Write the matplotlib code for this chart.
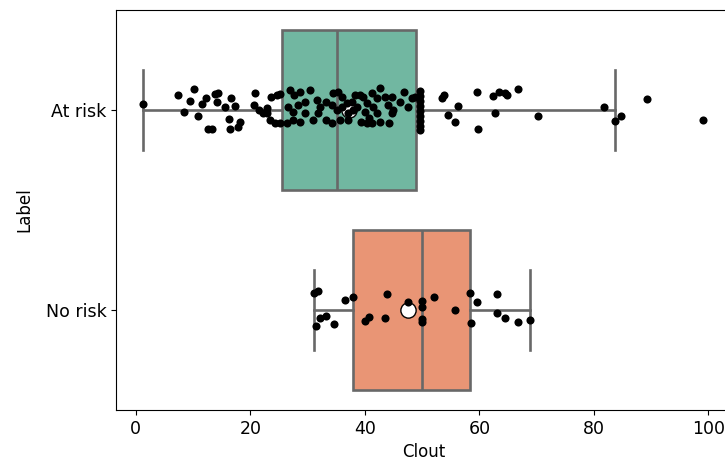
import matplotlib
matplotlib.use("Agg")
import matplotlib.pyplot as plt
import numpy as np

# ---- data ----
categories = ["At risk", "No risk"]
box_q1 = [25.5, 38.0]
box_median = [35.1, 49.9]
box_q3 = [48.9, 58.3]
whisker_low = [1.2, 31.1]
whisker_high = [83.6, 68.8]
box_mean = [37.3, 47.6]

at_risk_clout = [
    1.2, 7.3, 10.1, 9.4, 8.4, 10.8, 11.5, 12.2, 13.8, 14.3, 14.1, 12.7, 13.3,
    15.5, 16.6, 16.2, 16.4, 17.3, 18.2, 17.8, 20.9, 20.6, 21.6, 22.2, 22.9,
    23.7, 24.6, 25.1, 23.4, 24.3, 25.1, 22.9, 26.9, 27.7, 28.6, 26.5, 27.4,
    28.3, 26.4, 27.4, 28.6, 29.5, 29.5, 30.4, 30.9, 31.6, 32.1, 31.8, 33.3,
    34.2, 34.4, 35.3, 36.0, 33.3, 34.2, 35.1, 36.0, 36.8, 37.7, 38.2, 39.1,
    38.7, 37.9, 37.0, 39.4, 40.3, 40.3, 40.0, 35.6, 37.0, 39.6, 41.2, 42.6,
    42.1, 41.4, 42.1, 40.8, 43.5, 44.7, 44.0, 44.9, 44.7, 42.6, 44.3, 41.2,
    46.1, 46.9, 47.5, 48.2, 48.7, 49.7, 49.7, 49.7, 49.7, 49.7, 49.7, 49.7,
    49.7, 49.7, 53.4, 53.9, 54.5, 56.2, 55.8, 59.5, 59.7, 62.3, 62.7, 63.5,
    64.4, 64.9, 66.8, 70.3, 81.7, 83.6, 84.8, 89.2, 99.0,
]
at_risk_jitter = [
    -0.03, -0.075, -0.105, -0.045, 0.01, 0.03, -0.03, -0.06, -0.08, -0.085,
    -0.04, 0.095, 0.095, -0.015, -0.06, 0.045, 0.095, -0.02, 0.06, 0.085,
    -0.085, -0.025, 0.0, 0.015, 0.015, -0.065, -0.075, -0.08, 0.05, 0.065,
    0.065, -0.01, -0.1, -0.075, -0.09, -0.015, 0.01, -0.025, 0.065, 0.05,
    0.06, -0.04, 0.015, -0.1, 0.05, -0.05, -0.015, 0.015, 0.05, 0.065,
    -0.085, -0.09, -0.065, -0.04, -0.025, 0.0, -0.015, -0.035, -0.04, -0.075,
    -0.075, -0.015, 0.0, 0.015, 0.06, 0.065, -0.035, 0.01, 0.05, 0.05,
    -0.065, -0.085, -0.11, -0.06, -0.015, 0.015, 0.04, -0.065, -0.065,
    -0.025, 0.0, 0.015, 0.06, 0.065, 0.065, -0.04, -0.09, -0.015, -0.06,
    -0.065, -0.095, -0.07, -0.045, -0.02, 0.005, 0.03, 0.055, 0.08, 0.1,
    -0.06, -0.075, 0.025, -0.02, 0.06, -0.09, 0.095, -0.07, 0.015, -0.09,
    -0.085, -0.075, -0.105, 0.03, -0.015, 0.055, 0.03, -0.055, 0.05,
]

no_risk_clout = [
    31.1, 31.8, 36.5, 38.0, 43.8, 47.5, 49.9, 49.9, 52.0, 55.8, 58.3, 59.5,
    63.0, 63.0, 64.4, 66.7, 68.9, 31.4, 32.1, 33.2, 34.6, 40.1, 40.8, 43.5,
    49.9, 49.9, 58.5,
]
no_risk_jitter = [
    -0.085, -0.095, -0.05, -0.065, -0.08, -0.04, -0.045, -0.015, -0.065,
    0.0, -0.085, -0.04, -0.08, 0.015, 0.04, 0.06, 0.05, 0.08, 0.04, 0.03,
    0.07, 0.055, 0.035, 0.04, 0.045, 0.06, 0.065,
]

box_colors = ["#71b7a1", "#e99575"]
line_color = "#686868"

# ---- figure ----
fig = plt.figure(figsize=(7.25, 4.7), dpi=100)
ax = fig.add_axes([0.16, 0.1277, 0.848, 0.851])

stats = []
for i, lab in enumerate(categories):
    stats.append(dict(label=lab, q1=box_q1[i], med=box_median[i], q3=box_q3[i],
                      whislo=whisker_low[i], whishi=whisker_high[i],
                      mean=box_mean[i]))

lw = 1.9
bp = ax.bxp(stats, positions=[0, 1], widths=0.8, orientation="horizontal",
            patch_artist=True, showmeans=True, showfliers=False,
            capwidths=0.4,
            boxprops=dict(edgecolor=line_color, linewidth=lw),
            medianprops=dict(color=line_color, linewidth=lw),
            whiskerprops=dict(color=line_color, linewidth=lw),
            capprops=dict(color=line_color, linewidth=lw),
            meanprops=dict(marker="o", markerfacecolor="white",
                           markeredgecolor="black", markersize=11,
                           markeredgewidth=1.0))
for patch, c in zip(bp["boxes"], box_colors):
    patch.set_facecolor(c)

ax.scatter(at_risk_clout, [0 + j for j in at_risk_jitter], s=34,
           color="black", linewidths=0, zorder=5)
ax.scatter(no_risk_clout, [1 + j for j in no_risk_jitter], s=34,
           color="black", linewidths=0, zorder=5)

ax.set_xlim(-3.45, 103.9)
ax.set_ylim(1.5, -0.5)
ax.set_xticks([0, 20, 40, 60, 80, 100])
ax.set_yticks([0, 1])
ax.set_yticklabels(categories)
ax.tick_params(labelsize=12.5)
ax.set_xlabel("Clout", fontsize=12)
ax.set_ylabel("Label", fontsize=12, labelpad=9)

fig.savefig("out.png", dpi=100)
